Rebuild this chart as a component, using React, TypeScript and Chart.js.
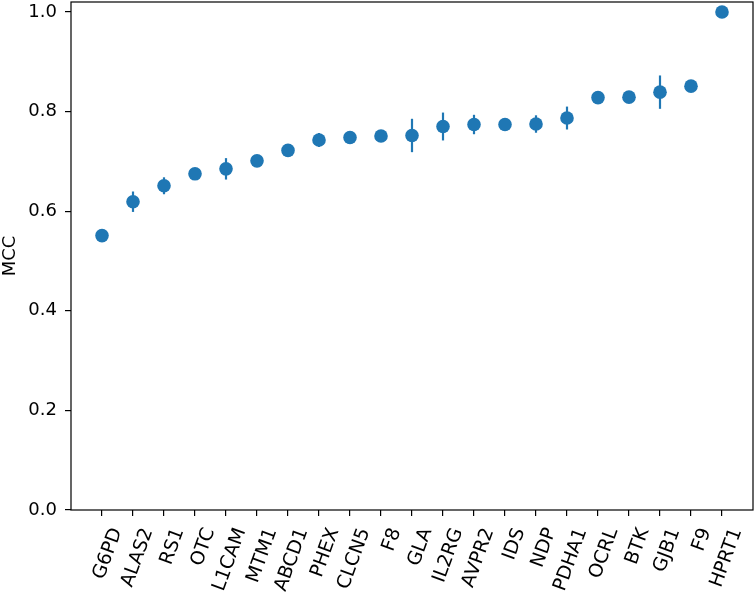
import React, { useEffect, useRef } from "react";
import { Chart, registerables } from "chart.js";

Chart.register(...registerables);

const categories = ["G6PD", "ALAS2", "RS1", "OTC", "L1CAM", "MTM1", "ABCD1", "PHEX", "CLCN5", "F8", "GLA", "IL2RG", "AVPR2", "IDS", "NDP", "PDHA1", "OCRL", "BTK", "GJB1", "F9", "HPRT1"];
const mcc = [0.551, 0.619, 0.651, 0.675, 0.685, 0.701, 0.722, 0.743, 0.748, 0.751, 0.752, 0.770, 0.774, 0.774, 0.775, 0.787, 0.828, 0.829, 0.839, 0.851, 1.0];
const mccErr = [0, 0.0205, 0.017, 0, 0.0215, 0, 0, 0.014, 0, 0, 0.0335, 0.028, 0.0195, 0, 0.0175, 0.023, 0, 0, 0.0335, 0, 0];
const yTicks = [0, 0.2, 0.4, 0.6, 0.8, 1.0];

const BLUE = "#1f77b4";
const FONT = "DejaVu Sans";

export default function App() {
  const ref = useRef<HTMLCanvasElement | null>(null);
  useEffect(() => {
    document.body.style.margin = "0";
    const canvas = ref.current!;
    const errorBars = {
      id: "errorBars",
      beforeDatasetsDraw(chart: any) {
        const { ctx, scales } = chart;
        ctx.save();
        ctx.strokeStyle = BLUE;
        ctx.lineWidth = 2.2;
        mcc.forEach((v, i) => {
          const e = mccErr[i];
          if (!e) return;
          const x = scales.x.getPixelForValue(i);
          ctx.beginPath();
          ctx.moveTo(x, scales.y.getPixelForValue(v - e));
          ctx.lineTo(x, scales.y.getPixelForValue(v + e));
          ctx.stroke();
        });
        ctx.restore();
      },
    };
    const frame = {
      id: "frame",
      afterDraw(chart: any) {
        const { ctx, chartArea: a } = chart;
        ctx.save();
        ctx.strokeStyle = "#000";
        ctx.lineWidth = 1.2;
        ctx.strokeRect(a.left, a.top, a.right - a.left, a.bottom - a.top);
        ctx.restore();
      },
    };
    const chart = new Chart(canvas, {
      type: "scatter",
      data: {
        datasets: [
          {
            data: mcc.map((v, i) => ({ x: i, y: v })),
            backgroundColor: BLUE,
            borderColor: BLUE,
            pointRadius: 6.8,
            pointHoverRadius: 6.8,
            borderWidth: 0,
          },
        ],
      },
      options: {
        animation: false,
        responsive: false,
        devicePixelRatio: 1,
        layout: { autoPadding: false, padding: { top: 2, right: 2, left: 0, bottom: 0 } },
        plugins: { legend: { display: false }, tooltip: { enabled: false } },
        scales: {
          x: {
            type: "linear",
            min: -1,
            max: 21,
            afterBuildTicks: (s: any) => {
              s.ticks = categories.map((_, i) => ({ value: i }));
            },
            afterFit: (s: any) => {
              s.height = 94;
              s.paddingLeft = 0;
              s.paddingRight = 0;
            },
            ticks: {
              autoSkip: false,
              minRotation: 70,
              maxRotation: 70,
              color: "#000",
              padding: 9,
              labelOffset: 15,
              font: { family: FONT, size: 19 },
              callback: (v: any) => categories[v as number],
            },
            grid: { display: true, drawOnChartArea: false, drawTicks: true, tickLength: 6, color: "#000", lineWidth: 1.2 },
            border: { display: false },
          },
          y: {
            min: 0,
            max: 1.02,
            afterBuildTicks: (s: any) => {
              s.ticks = yTicks.map((v) => ({ value: v }));
            },
            afterFit: (s: any) => {
              s.width = 71;
              s.paddingTop = 0;
              s.paddingBottom = 0;
            },
            ticks: {
              color: "#000",
              padding: 8,
              font: { family: FONT, size: 18 },
              callback: (v: any) => Number(v).toFixed(1),
            },
            title: {
              display: true,
              text: "MCC",
              color: "#000",
              font: { family: FONT, size: 18 },
              padding: { top: 0, bottom: 0 },
            },
            grid: { display: true, drawOnChartArea: false, drawTicks: true, tickLength: 6, color: "#000", lineWidth: 1.2 },
            border: { display: false },
          },
        },
      },
      plugins: [errorBars, frame],
    });
    return () => chart.destroy();
  }, []);
  return (
    <div style={{ position: "absolute", left: 0, top: 0, width: 755, height: 604 }}>
      <canvas ref={ref} width={755} height={604} />
    </div>
  );
}
